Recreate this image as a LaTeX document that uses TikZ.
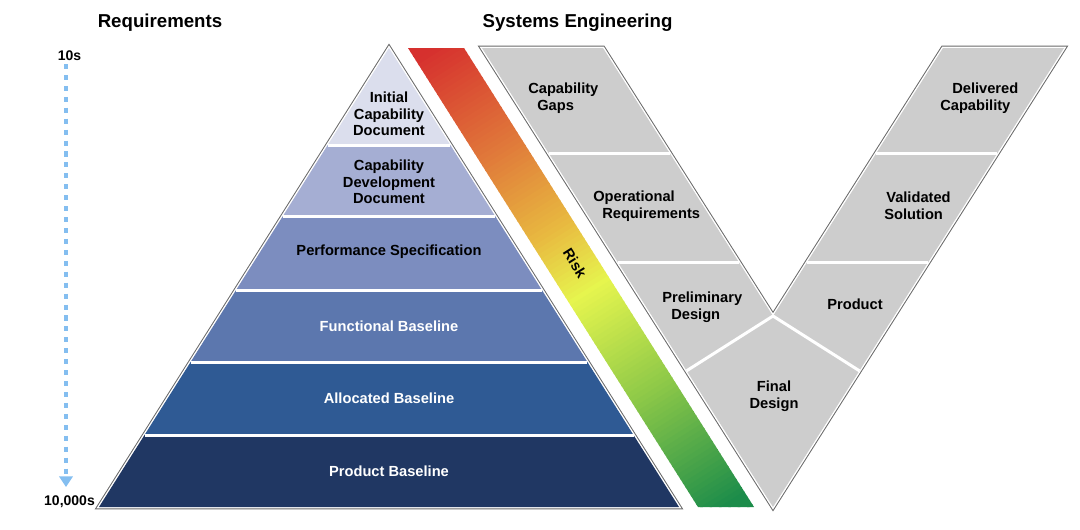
\documentclass[tikz,border=0pt]{standalone}
\usepackage{fontspec}
\setmainfont{Liberation Sans}
\usetikzlibrary{arrows.meta}
\definecolor{bandA}{RGB}{219,222,237}
\definecolor{bandB}{RGB}{165,174,211}
\definecolor{bandC}{RGB}{124,141,191}
\definecolor{bandD}{RGB}{92,119,174}
\definecolor{bandE}{RGB}{47,90,148}
\definecolor{bandF}{RGB}{32,55,99}
\definecolor{vgray}{RGB}{205,205,205}
\definecolor{edgegray}{RGB}{105,105,105}
\definecolor{arrowblue}{RGB}{132,190,240}
\definecolor{rA}{RGB}{214,48,46}
\definecolor{rB}{RGB}{224,120,58}
\definecolor{rC}{RGB}{232,185,64}
\definecolor{rD}{RGB}{230,245,78}
\definecolor{rE}{RGB}{140,200,72}
\definecolor{rF}{RGB}{28,140,74}
\newcommand\setriskcolor[1]{%
  \pgfmathsetmacro\rkt{max(0,min(1,#1))}%
  \ifdim\rkt pt<0.22pt
    \pgfmathsetmacro\rku{min(100,\rkt/0.22*100)}\colorlet{rc}{rB!\rku!rA}%
  \else\ifdim\rkt pt<0.40pt
    \pgfmathsetmacro\rku{min(100,(\rkt-0.22)/0.18*100)}\colorlet{rc}{rC!\rku!rB}%
  \else\ifdim\rkt pt<0.53pt
    \pgfmathsetmacro\rku{min(100,(\rkt-0.40)/0.13*100)}\colorlet{rc}{rD!\rku!rC}%
  \else\ifdim\rkt pt<0.75pt
    \pgfmathsetmacro\rku{min(100,(\rkt-0.53)/0.22*100)}\colorlet{rc}{rE!\rku!rD}%
  \else
    \pgfmathsetmacro\rku{min(100,(\rkt-0.75)/0.25*100)}\colorlet{rc}{rF!\rku!rE}%
  \fi\fi\fi\fi}
\begin{document}
\begin{tikzpicture}[x=0.75pt,y=-0.75pt,
  lbl/.style={font=\bfseries\fontsize{11}{12.4}\selectfont, align=center, inner sep=0pt},
  lbll/.style={lbl, align=left, anchor=west},
  heading/.style={font=\bfseries\fontsize{14}{16}\selectfont, inner sep=0pt},
  ticklbl/.style={font=\bfseries\fontsize{10.5}{12}\selectfont, inner sep=0pt},
  sepline/.style={white, line width=2.25pt},
  outergray/.style={draw=edgegray, line width=3.6pt, line join=miter},
  outerwhite/.style={draw=white, line width=2.1pt, line join=miter}]
\useasboundingbox (0,0) rectangle (1080,529);

% titles
\node[heading] (treq) at (160,23) {Requirements};
\node[heading] (tse) at (577.5,23) {Systems Engineering};

% scale arrow
\node[ticklbl] (top) at (69.5,55.5) {10s};
\node[ticklbl] (bot) at (69.5,502) {10,000s};
\coordinate (ast) at (66,64);
\coordinate (aen) at (66,487);
\draw[arrowblue, line width=2.7pt, dash pattern=on 3.8pt off 4.4pt,
  -{Triangle[width=10pt,length=8pt]}] (ast) -- (aen);

% pyramid
\draw[outergray] (389,48) -- (679,507) -- (99,507) -- cycle;
\draw[outerwhite] (389,48) -- (679,507) -- (99,507) -- cycle;
\fill[bandA] (389,48) -- (450.3,145) -- (327.7,145) -- cycle;
\fill[bandB] (327.7,145) -- (450.3,145) -- (495.1,216) -- (282.9,216) -- cycle;
\fill[bandC] (282.9,216) -- (495.1,216) -- (541.9,290) -- (236.1,290) -- cycle;
\fill[bandD] (236.1,290) -- (541.9,290) -- (587.4,362) -- (190.6,362) -- cycle;
\fill[bandE] (190.6,362) -- (587.4,362) -- (633.5,435) -- (144.5,435) -- cycle;
\fill[bandF] (144.5,435) -- (633.5,435) -- (679,507) -- (99,507) -- cycle;
\draw[sepline] (327.7,145) -- (450.3,145);
\draw[sepline] (282.9,216) -- (495.1,216);
\draw[sepline] (236.1,290) -- (541.9,290);
\draw[sepline] (190.6,362) -- (587.4,362);
\draw[sepline] (144.5,435) -- (633.5,435);

\node[lbl] (icd) at (389,114) {Initial\\Capability\\Document};
\node[lbl] (cdd) at (389,182) {Capability\\Development\\Document};
\node[lbl] (perf) at (389,252) {Performance Specification};
\node[lbl, white] (func) at (389,326) {Functional Baseline};
\node[lbl, white] (alloc) at (389,398) {Allocated Baseline};
\node[lbl, white] (prodb) at (389,471) {Product Baseline};

% risk bar
\begin{scope}
  \clip (408,48) -- (464,48) -- (754,507) -- (698,507) -- cycle;
  \begin{scope}[shift={(436,48)}, rotate=-57.71]
    \foreach \s in {-30,-25,...,570} {
      \setriskcolor{(\s+2.5)/542.9}
      \fill[rc] (\s-0.6,-60) rectangle (\s+5.6,60);
    }
  \end{scope}
\end{scope}
\node[lbl, rotate=-57.7] (risk) at (575,263) {Risk};

% V shape
\draw[outergray] (482,48) -- (603,48) -- (773,316) -- (943,48) -- (1064,48) -- (773,507) -- cycle;
\draw[outerwhite] (482,48) -- (603,48) -- (773,316) -- (943,48) -- (1064,48) -- (773,507) -- cycle;
\fill[vgray] (482,48) -- (603,48) -- (773,316) -- (943,48) -- (1064,48) -- (773,507) -- cycle;
\draw[sepline] (548.6,153) -- (669.6,153);
\draw[sepline] (617.7,262) -- (738.7,262);
\draw[sepline] (686.6,370.8) -- (773,316) -- (859.4,370.8);
\draw[sepline] (807.3,262) -- (928.3,262);
\draw[sepline] (876.4,153) -- (997.4,153);

\node[lbll] (gaps) at (528,98) {Capability\\\hspace*{6.75pt}Gaps};
\node[lbll] (opreq) at (593,206) {Operational\\\hspace*{6.75pt}Requirements};
\node[lbll] (prelim) at (662,307) {Preliminary\\\hspace*{6.75pt}Design};
\node[lbl] (final) at (774,396) {Final\\Design};
\node[lbl] (prod) at (855,304) {Product};
\node[lbll] (valid) at (884,206) {\hspace*{1.5pt}Validated\\Solution};
\node[lbll] (deliv) at (940,98) {\hspace*{9pt}Delivered\\Capability};
\end{tikzpicture}
\end{document}
